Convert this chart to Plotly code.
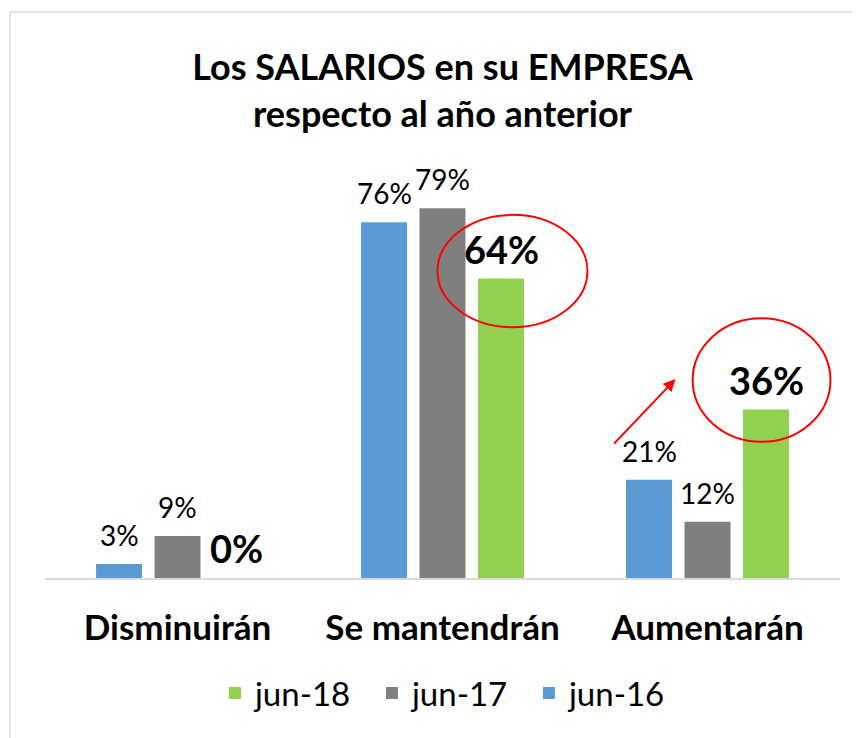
import plotly.graph_objects as go

categories = ["Disminuirán", "Se mantendrán", "Aumentarán"]
series_names = ["jun-16", "jun-17", "jun-18"]
jun16 = [3, 76, 21]
jun17 = [9, 79, 12]
jun18 = [0, 64, 36]
colors = ["#5B9BD5", "#7F7F7F", "#92D050"]
values = [jun16, jun17, jun18]

FONT = "Lato"
fig = go.Figure()
for name, vals, col in zip(series_names, values, colors):
    fig.add_trace(go.Bar(
        x=categories, y=vals, name=name,
        marker=dict(color=col, line=dict(width=0)),
        hoverinfo="x+y",
    ))

# data labels
slot = 58.5
annotations = []
for i, (name, vals) in enumerate(zip(series_names, values)):
    bold = name == "jun-18"
    for cat, v in zip(categories, vals):
        annotations.append(dict(
            x=cat, y=v, xref="x", yref="y",
            text=(f"<b>{v}%</b>" if bold else f"{v}%"),
            showarrow=False, xshift=(i - 1) * slot, yshift=30 if bold else 29,
            yanchor="middle",
            font=dict(family=FONT, size=38 if bold else 28, color="#000000"),
        ))

# arrow
annotations.append(dict(
    x=1.879, y=42.5, ax=1.642, ay=28.4, xref="x", yref="y", axref="x", ayref="y",
    text="", showarrow=True, arrowhead=2, arrowsize=1.2, arrowwidth=2, arrowcolor="#FF0000",
))

shapes = [
    dict(type="circle", xref="x", yref="y", x0=0.981, x1=1.547, y0=53.6, y1=77.6,
         line=dict(color="#FF0000", width=2)),
    dict(type="circle", xref="x", yref="y", x0=1.944, x1=2.464, y0=29.1, y1=55.5,
         line=dict(color="#FF0000", width=2)),
    dict(type="rect", xref="paper", yref="paper", x0=-0.044, x1=1.2, y0=-0.6, y1=1.292,
         line=dict(color="#D9D9D9", width=1.5), layer="below"),
]

fig.update_layout(
    width=852, height=730,
    margin=dict(l=37, r=20, t=132, b=160),
    paper_bgcolor="white", plot_bgcolor="white",
    barmode="group", bargap=0.338, bargroupgap=0.214,
    title=dict(
        text="<b>Los SALARIOS en su EMPRESA<br>respecto al año anterior</b>",
        x=0.5, xref="paper", xanchor="center", y=0.901, yref="container", yanchor="middle",
        font=dict(family=FONT, size=36, color="#000000"),
    ),
    xaxis=dict(
        showline=True, linecolor="#D9D9D9", linewidth=2, showgrid=False, ticks="",
        tickfont=dict(family=FONT, size=35, color="#000000"),
        ticklabelstandoff=18,
        tickmode="array", tickvals=categories,
        ticktext=[f"<b>{c}</b>" for c in categories],
    ),
    yaxis=dict(range=[0, 93.6], visible=False, showgrid=False, zeroline=False),
    legend=dict(
        orientation="h", traceorder="reversed", x=0.51, xanchor="center", xref="paper",
        y=0.0616, yref="container", yanchor="middle",
        font=dict(family=FONT, size=33, color="#000000"),
        itemwidth=30, entrywidth=112, entrywidthmode="pixels",
    ),
    annotations=annotations, shapes=shapes,
    showlegend=True,
)
fig.write_html("out.html")
